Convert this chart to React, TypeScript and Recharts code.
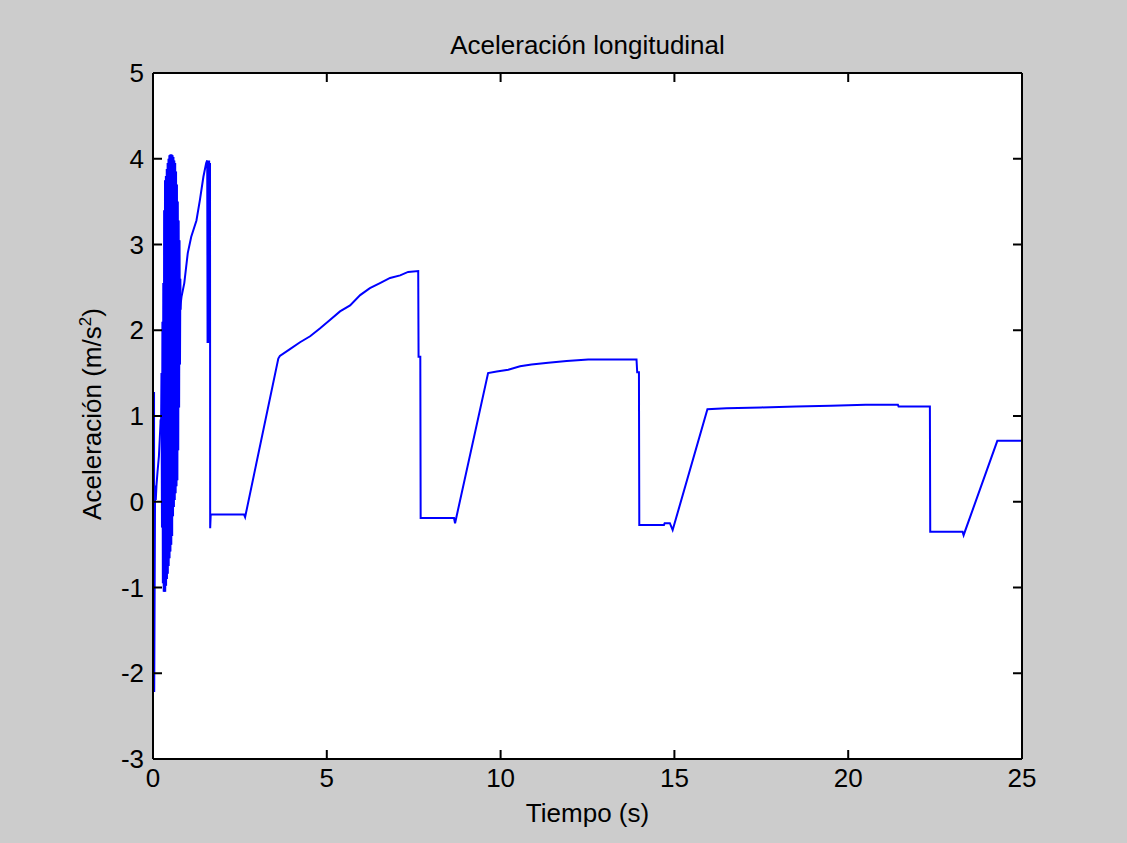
import React from 'react';
import { LineChart, Line, XAxis, YAxis, CartesianGrid } from 'recharts';

// time (s) and longitudinal acceleration (m/s^2)
const timeS = [
  0.03, 0.035, 0.06, 0.08, 0.1, 0.13, 0.17, 0.22, 0.245,
  0.255, 0.265, 0.28, 0.292, 0.305, 0.317, 0.33, 0.342, 0.355, 0.367,
  0.38, 0.392, 0.405, 0.417, 0.43, 0.442, 0.455, 0.467, 0.48, 0.492,
  0.505, 0.517, 0.53, 0.542, 0.555, 0.567, 0.58, 0.592, 0.605, 0.617,
  0.63, 0.642, 0.655, 0.667, 0.68, 0.692, 0.705, 0.717, 0.73, 0.742,
  0.755, 0.765, 0.775,
  0.82, 0.9, 1.0, 1.1, 1.25, 1.35, 1.45, 1.53, 1.56,
  1.57, 1.585, 1.6, 1.615, 1.63, 1.64, 1.645, 1.66,
  2.62, 2.65, 3.605, 3.65, 3.94, 4.23, 4.52, 4.8, 5.09, 5.38, 5.67,
  5.96, 6.24, 6.53, 6.82, 7.11, 7.34, 7.63, 7.64, 7.69, 7.7,
  8.66, 8.69, 9.64, 9.89, 10.22, 10.56, 10.89, 11.37, 11.9, 12.52,
  13.91, 13.93, 13.98, 13.99, 14.7, 14.72, 14.87, 14.95, 15.95,
  16.5, 17.5, 18.5, 19.5, 20.5, 21.43, 21.45, 22.35, 22.36,
  23.29, 23.32, 24.29, 24.98,
];

const accel = [
  1.28, -2.22, 0.19, 0.02, 0.19, 0.35, 0.53, 0.95, 0.95,
  0.9, 1.5, -0.3, 2.1, -0.95, 2.55, -1.05, 3.4, -0.98, 3.75,
  -0.9, 3.8, -0.84, 3.88, -0.75, 3.95, -0.66, 4.0, -0.58, 4.04,
  -0.5, 4.05, -0.4, 4.04, -0.17, 4.02, -0.06, 3.98, 0.02, 3.95,
  0.1, 3.85, 0.18, 3.7, 0.25, 3.5, 0.6, 3.28, 1.1, 3.05,
  1.6, 2.6, 2.24,
  2.39, 2.55, 2.9, 3.09, 3.28, 3.52, 3.79, 3.95, 3.98,
  1.85, 3.98, 1.85, 3.98, 1.9, 3.95, -0.31, -0.15,
  -0.15, -0.18, 1.67, 1.7, 1.78, 1.86, 1.93, 2.02, 2.12, 2.22, 2.29,
  2.41, 2.49, 2.55, 2.61, 2.64, 2.68, 2.69, 1.69, 1.69, -0.19,
  -0.19, -0.25, 1.5, 1.52, 1.54, 1.58, 1.6, 1.62, 1.64, 1.66,
  1.66, 1.51, 1.51, -0.27, -0.27, -0.25, -0.25, -0.33, 1.08,
  1.09, 1.1, 1.11, 1.12, 1.13, 1.13, 1.11, 1.11, -0.35,
  -0.35, -0.39, 0.71, 0.71,
];

const xTicks = [0, 5, 10, 15, 20, 25];
const yTicks = [-3, -2, -1, 0, 1, 2, 3, 4, 5];

const data = timeS.map((t, i) => ({ t, a: accel[i] }));
// the oscillating start-up burst (0.25 s - 0.78 s), drawn again thicker so it reads as a solid block
const burst = data.slice(8, 52);

const FONT = '"Liberation Sans", Arial, sans-serif';
const TICK = 9;

const LeftTick = ({ x, y, payload }: any) => (
  <g>
    <line x1={x} x2={x + TICK} y1={y} y2={y} stroke="#000" strokeWidth={2} />
    <text x={x - 9} y={y} textAnchor="end" dominantBaseline="central" fontSize={26} fontFamily={FONT} fill="#000">
      {payload.value}
    </text>
  </g>
);

const RightTick = ({ x, y }: any) => (
  <line x1={x} x2={x - TICK} y1={y} y2={y} stroke="#000" strokeWidth={2} />
);

const BottomTick = ({ x, y, payload }: any) => (
  <g>
    <line x1={x} x2={x} y1={y} y2={y - TICK} stroke="#000" strokeWidth={2} />
    <text x={x} y={y + 28} textAnchor="middle" fontSize={26} fontFamily={FONT} fill="#000">
      {payload.value}
    </text>
  </g>
);

const TopTick = ({ x, y }: any) => (
  <line x1={x} x2={x} y1={y} y2={y + TICK} stroke="#000" strokeWidth={2} />
);

const axisLine = { stroke: '#000', strokeWidth: 2 };

export default function App() {
  return (
    <div style={{ position: 'absolute', left: 0, top: 0, width: 1127, height: 843, background: '#cccccc', fontFamily: FONT }}>
      <LineChart width={1127} height={843} data={data} margin={{ top: 72, right: 104, bottom: 83, left: 152 }}>
        <CartesianGrid horizontal={false} vertical={false} fill="#ffffff" />
        <XAxis
          dataKey="t"
          type="number"
          domain={[0, 25]}
          ticks={xTicks}
          height={1}
          tickSize={0}
          tickMargin={0}
          tickLine={false}
          axisLine={axisLine}
          tick={BottomTick}
          interval={0}
        />
        <XAxis
          xAxisId="top"
          orientation="top"
          dataKey="t"
          type="number"
          domain={[0, 25]}
          ticks={xTicks}
          height={1}
          tickSize={0}
          tickMargin={0}
          tickLine={false}
          axisLine={axisLine}
          tick={TopTick}
          interval={0}
        />
        <YAxis
          type="number"
          domain={[-3, 5]}
          ticks={yTicks}
          width={1}
          tickSize={0}
          tickMargin={0}
          tickLine={false}
          axisLine={axisLine}
          tick={LeftTick}
          interval={0}
        />
        <YAxis
          yAxisId="right"
          orientation="right"
          type="number"
          domain={[-3, 5]}
          ticks={yTicks}
          width={1}
          tickSize={0}
          tickMargin={0}
          tickLine={false}
          axisLine={axisLine}
          tick={RightTick}
          interval={0}
        />
        <Line
          dataKey="a"
          type="linear"
          stroke="#0000ff"
          strokeWidth={2}
          dot={false}
          activeDot={false}
          isAnimationActive={false}
        />
        <Line
          data={burst}
          dataKey="a"
          type="linear"
          stroke="#0000ff"
          strokeWidth={3.5}
          dot={false}
          activeDot={false}
          isAnimationActive={false}
        />
        <Line
          xAxisId="top"
          yAxisId="right"
          dataKey="a"
          type="linear"
          stroke="none"
          dot={false}
          activeDot={false}
          isAnimationActive={false}
        />
      </LineChart>
      <div style={{ position: 'absolute', left: 153, width: 869, top: 30, textAlign: 'center', fontSize: 26, lineHeight: '30px', color: '#000' }}>
        Aceleración longitudinal
      </div>
      <div style={{ position: 'absolute', left: 153, width: 869, top: 798, textAlign: 'center', fontSize: 26, lineHeight: '30px', color: '#000' }}>
        Tiempo (s)
      </div>
      <div
        style={{
          position: 'absolute',
          left: 92,
          top: 414,
          transform: 'translate(-50%, -50%) rotate(-90deg)',
          whiteSpace: 'nowrap',
          fontSize: 26,
          lineHeight: '30px',
          color: '#000',
        }}
      >
        Aceleración (m/s<sup style={{ fontSize: 17, verticalAlign: 'super', lineHeight: 0 }}>2</sup>)
      </div>
    </div>
  );
}
